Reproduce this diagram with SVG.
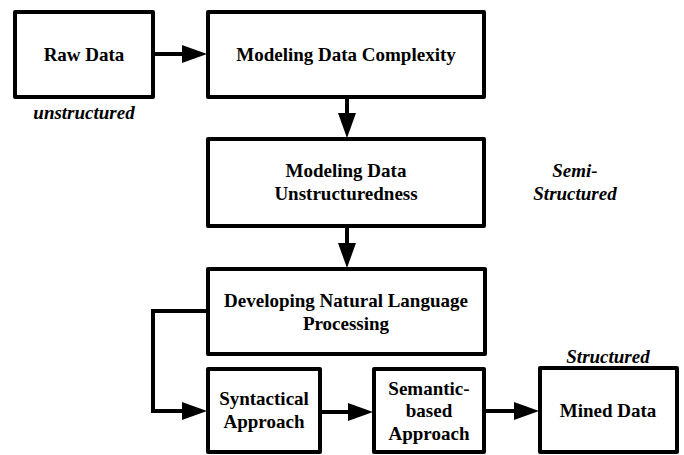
<svg xmlns="http://www.w3.org/2000/svg" width="684" height="455" viewBox="0 0 684 455">
<style>
.box{fill:#fff;stroke:#000;stroke-width:4;stroke-linejoin:round}
.t{font-family:"Liberation Serif","Times New Roman",serif;font-weight:bold;font-size:19px;text-anchor:middle;fill:#000}
.i{font-style:italic}
.c{fill:none;stroke:#000;stroke-width:4;stroke-linejoin:miter}
</style>
<defs>
<marker id="ah" viewBox="0 0 25 18" refX="1" refY="9" markerWidth="25" markerHeight="18" markerUnits="userSpaceOnUse" orient="auto">
<path d="M0,0 L25,9 L0,18 Z" fill="#000"/>
</marker>
</defs>
<rect width="684" height="455" fill="#fff"/>
<g id="connectors">
<path class="c" d="M153 54 H183" marker-end="url(#ah)"/>
<path class="c" d="M347 97 V114" marker-end="url(#ah)"/>
<path class="c" d="M347 226 V244" marker-end="url(#ah)"/>
<path class="c" d="M208 311 H153 V411 H183" marker-end="url(#ah)"/>
<path class="c" d="M320 412 H349" marker-end="url(#ah)"/>
<path class="c" d="M484 411 H515" marker-end="url(#ah)"/>
</g>
<g id="raw-data">
<rect class="box" x="15" y="12" width="138" height="85"/>
<text class="t" x="84" y="61">Raw Data</text>
</g>
<text class="t i" x="84" y="119">unstructured</text>
<g id="modeling-complexity">
<rect class="box" x="208" y="12" width="276" height="85"/>
<text class="t" x="346" y="61">Modeling Data Complexity</text>
</g>
<g id="modeling-unstructuredness">
<rect class="box" x="208" y="139" width="276" height="87"/>
<text class="t" x="346" y="177">Modeling Data</text>
<text class="t" x="346" y="200">Unstructuredness</text>
</g>
<text class="t i" x="575" y="177">Semi-</text>
<text class="t i" x="575" y="200">Structured</text>
<g id="nlp">
<rect class="box" x="208" y="269" width="277" height="85"/>
<text class="t" x="346" y="307">Developing Natural Language</text>
<text class="t" x="346" y="330">Processing</text>
</g>
<g id="syntactical">
<rect class="box" x="208" y="369" width="112" height="83"/>
<text class="t" x="264" y="405">Syntactical</text>
<text class="t" x="264" y="428">Approach</text>
</g>
<g id="semantic">
<rect class="box" x="374" y="369" width="110" height="83"/>
<text class="t" x="429" y="395">Semantic-</text>
<text class="t" x="429" y="417">based</text>
<text class="t" x="429" y="440">Approach</text>
</g>
<text class="t i" x="608" y="363">Structured</text>
<g id="mined-data">
<rect class="box" x="540" y="368" width="137" height="84"/>
<text class="t" x="608" y="417">Mined Data</text>
</g>
</svg>
